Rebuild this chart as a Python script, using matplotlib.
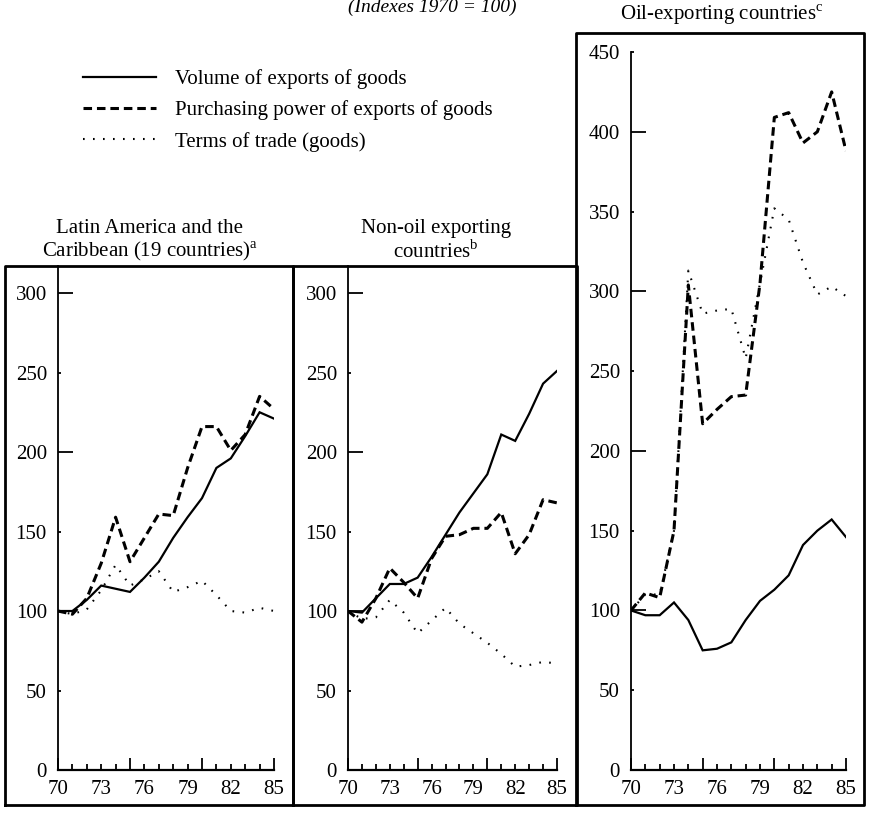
import matplotlib
matplotlib.use("Agg")
import matplotlib.pyplot as plt
from matplotlib.lines import Line2D

plt.rcParams["font.family"] = ["Liberation Serif", "DejaVu Serif"]
plt.rcParams["mathtext.fontset"] = "custom"
plt.rcParams["mathtext.rm"] = "Liberation Serif"

W, H = 869, 813
FS = 15

years = list(range(70, 86))
year_labels = ["70", "73", "76", "79", "82", "85"]

la_volume = [100, 100, 107, 116, 114, 112, 121, 131, 146, 159, 171, 190, 196, 210, 225, 221]
la_power = [100, 98, 108, 130, 159, 131, 146, 161, 160, 190, 216, 216, 201, 211, 235, 227]
la_terms = [100, 98, 101, 113, 129, 116, 120, 125, 112, 115, 119, 110, 100, 99, 102, 100]

non_volume = [100, 99, 108, 117, 117, 121, 134, 148, 162, 174, 186, 211, 207, 224, 243, 251]
non_power = [100, 93, 108, 127, 118, 108, 133, 147, 148, 152, 152, 162, 136, 148, 170, 168]
non_terms = [100, 95, 96, 107, 99, 86, 94, 102, 92, 86, 80, 73, 65, 66, 68, 67]

oil_volume = [100, 97, 97, 105, 94, 75, 76, 80, 94, 106, 113, 122, 141, 150, 157, 146]
oil_power = [100, 111, 108, 150, 304, 217, 226, 234, 235, 305, 409, 412, 393, 400, 425, 388]
oil_terms = [100, 110, 110, 150, 313, 286, 288, 289, 258, 305, 352, 345, 318, 298, 303, 297]

series_names = ["Volume of exports of goods",
                "Purchasing power of exports of goods",
                "Terms of trade (goods)"]


def fx(x):
    return x / W


def fy(y):
    return 1 - y / H


def add_box(fig, x0, x1, top, bottom):
    xs = [fx(x0), fx(x0), fx(x1), fx(x1), fx(x0)]
    ys = [fy(bottom), fy(top), fy(top), fy(bottom), fy(bottom)]
    fig.add_artist(Line2D(xs, ys, transform=fig.transFigure, color="black", lw=2.0))


def panel(fig, left, right, top, ymax, volume, power, terms):
    ax = fig.add_axes([fx(left), fy(770), (right - left) / W, (770 - top) / H])
    ax.plot(years, volume, color="black", lw=1.6, solid_joinstyle="miter")
    ax.plot(years, power, color="black", lw=2.2, dashes=(2.8, 1.6))
    ax.plot(years, terms, color="black", lw=1.5, linestyle=(0, (0.8, 4.0)))
    ax.set_xlim(70, 85)
    ax.set_ylim(0, ymax)
    for s in ["top", "right"]:
        ax.spines[s].set_visible(False)
    ax.spines["left"].set_linewidth(1.3)
    ax.spines["bottom"].set_linewidth(1.6)
    ax.patch.set_alpha(0)

    ax.set_xticks(years)
    ax.set_xticklabels([str(y) if str(y) in year_labels else "" for y in years])
    ax.tick_params(axis="x", direction="in", labelsize=FS, pad=7, width=1.3)
    for y, t in zip(years, ax.xaxis.get_major_ticks()):
        t.tick1line.set_markersize(9 if y % 5 == 0 else 4)

    yt = list(range(0, ymax + 1, 50))
    ax.set_yticks(yt)
    ax.set_yticklabels([str(v) for v in yt])
    ax.tick_params(axis="y", direction="in", labelsize=FS, pad=8, width=1.3)
    for v, t in zip(yt, ax.yaxis.get_major_ticks()):
        t.tick1line.set_markersize(0 if v == 0 else (11 if v % 100 == 0 else 2))
    return ax


fig = plt.figure(figsize=(W / 100, H / 100), dpi=100)

# frames around each panel
add_box(fig, 5, 293, 266, 805)
add_box(fig, 293, 577, 266, 805)
add_box(fig, 576, 864, 33, 805)

ax1 = panel(fig, 58, 274, 266, 317, la_volume, la_power, la_terms)
ax2 = panel(fig, 348, 557, 266, 317, non_volume, non_power, non_terms)
ax3 = panel(fig, 631, 846, 52, 450, oil_volume, oil_power, oil_terms)

fig.text(fx(432), fy(7), "(Indexes 1970 = 100)", ha="center", va="center",
         fontsize=FS - 1, style="italic")

fig.text(fx(150), fy(241), "Latin America and the\nCaribbean (19 countries)$^{\\rm a}$",
         ha="center", va="center", fontsize=FS, linespacing=1.1)
fig.text(fx(436), fy(241), "Non-oil exporting\ncountries$^{\\rm b}$",
         ha="center", va="center", fontsize=FS, linespacing=1.1)
fig.text(fx(722), fy(15), "Oil-exporting countries$^{\\rm c}$",
         ha="center", va="center", fontsize=FS)

fig.legend(ax1.get_lines(), series_names, loc="upper left",
           bbox_to_anchor=(fx(83), fy(69)), frameon=False, fontsize=FS,
           handlelength=3.5, handletextpad=0.9, labelspacing=0.55,
           borderpad=0, borderaxespad=0)

fig.savefig("out.png", dpi=100)
